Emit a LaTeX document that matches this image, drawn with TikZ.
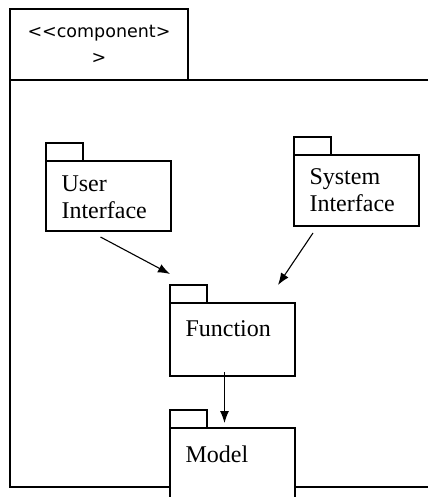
\documentclass[tikz,border=0pt]{standalone}
\usepackage{fontspec}
\setmainfont{Liberation Serif}
\newfontfamily\compfont{DejaVu Sans}
\usetikzlibrary{arrows.meta,calc}
\begin{document}
\begin{tikzpicture}[x=1pt, y=-1pt, line width=1.1pt,
		pkg/.style = {draw, fill=white, minimum width=125pt, anchor=north west, inner sep=0pt, outer sep=0pt},
		tab/.style = {draw, fill=white, minimum width=37pt, minimum height=18pt, anchor=south west, inner sep=0pt, outer sep=0pt},
		pkgname/.style = {anchor=north west, align=left, inner sep=0pt, font=\fontsize{24}{27}\selectfont},
		dep/.style = {-{Latex[length=12pt,width=9pt]}}]
		\useasboundingbox (0,0) rectangle (428,497);
		\clip (0,0) rectangle (428,497);
		\draw (428,80) -| (10,487) -- (428,487);
		\node[draw, anchor=north west, minimum width=178pt, minimum height=71pt, inner sep=0pt, outer sep=0pt, align=center, font=\compfont\fontsize{17.5}{26}\selectfont] (comp) at (10,9) {<<component>\\>};
		\draw[line width=2.2pt] (comp.south west) -- (comp.south east);
		\node[pkg, minimum height=70pt] (ui) at (46,161) {};
		\node[tab] (uitab) at (ui.north west) {};
		\node[pkgname] (uiname) at ($(ui.north west)+(15,14)$) {User\\Interface};
		\node[pkg, minimum height=71pt] (si) at (294,155) {};
		\node[tab] (sitab) at (si.north west) {};
		\node[pkgname] (siname) at ($(si.north west)+(15,13)$) {System\\Interface};
		\node[pkg, minimum height=73pt] (fn) at (170,303) {};
		\node[tab] (fntab) at (fn.north west) {};
		\node[pkgname] (fnname) at ($(fn.north west)+(15,17)$) {Function};
		\node[pkg, minimum height=80pt] (md) at (170,428) {};
		\node[tab] (mdtab) at (md.north west) {};
		\node[pkgname] (mdname) at ($(md.north west)+(15,17)$) {Model};
		\draw[dep] ($(ui.south)+(-8,6)$) -- ($(fn.north west)+(0,-29)$);
		\draw[dep] ($(si.south west)+(19,7)$) -- ($(fn.north east)+(-17,-18)$);
		\draw[dep] ($(fn.south)+(-8,-4)$) -- ($(md.north)+(-8,-5)$);
	\end{tikzpicture}
\end{document}
